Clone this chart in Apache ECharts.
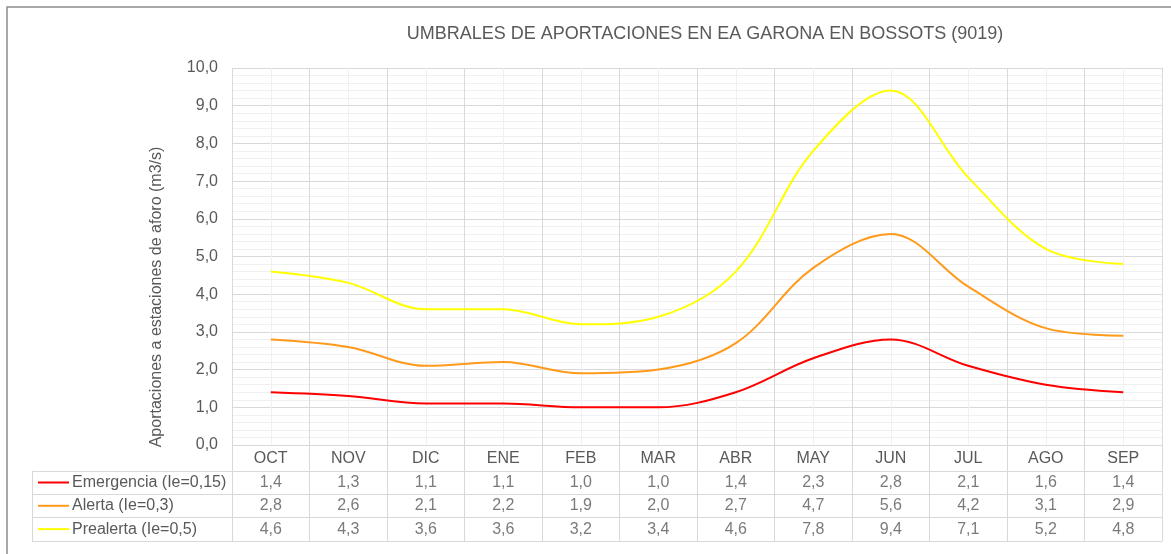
<!DOCTYPE html>
<html>
<head>
<meta charset="utf-8">
<script src="https://cdn.jsdelivr.net/npm/echarts@6/dist/echarts.min.js"></script>
<style>
  html, body { margin: 0; padding: 0; background: #fff; }
  #chart { width: 1171px; height: 554px; }
</style>
</head>
<body>
<div id="chart"></div>
<script>
// datos de los umbrales (m3/s)
const months = ['OCT', 'NOV', 'DIC', 'ENE', 'FEB', 'MAR', 'ABR', 'MAY', 'JUN', 'JUL', 'AGO', 'SEP'];
const seriesNames = ['Emergencia (Ie=0,15)', 'Alerta (Ie=0,3)', 'Prealerta (Ie=0,5)'];
const emergencia = [1.4, 1.3, 1.1, 1.1, 1.0, 1.0, 1.4, 2.3, 2.8, 2.1, 1.6, 1.4];
const alerta = [2.8, 2.6, 2.1, 2.2, 1.9, 2.0, 2.7, 4.7, 5.6, 4.2, 3.1, 2.9];
const prealerta = [4.6, 4.3, 3.6, 3.6, 3.2, 3.4, 4.6, 7.8, 9.4, 7.1, 5.2, 4.8];
const colors = ['#FF0000', '#FF9A1A', '#FFFF00'];

const TXT = '#595959';
const FONT = '"Liberation Sans", Arial, sans-serif';
const allValues = [emergencia, alerta, prealerta];

const fmt = v => v.toFixed(1).replace('.', ',');

// celdas de la tabla de datos
const tableData = [];
allValues.forEach((vals, r) => {
    vals.forEach((v, i) => tableData.push([i, r, v]));
});

const chart = echarts.init(document.getElementById('chart'));

chart.setOption({
    animation: false,
    backgroundColor: '#fff',
    textStyle: { fontFamily: FONT },
    title: {
        text: 'UMBRALES DE APORTACIONES EN EA GARONA EN BOSSOTS (9019)',
        left: 700, top: 20, textAlign: 'center',
        textStyle: { fontSize: 18, fontWeight: 'normal', color: TXT, fontFamily: FONT }
    },
    legend: {
        data: seriesNames,
        orient: 'vertical',
        left: 38, top: 473.5, padding: 0,
        icon: 'rect', itemWidth: 31, itemHeight: 2, itemGap: 5.3,
        textStyle: { fontSize: 16, color: TXT, lineHeight: 18, padding: [0, 0, 0, -2], fontFamily: FONT },
        selectedMode: false
    },
    graphic: [{
        type: 'rect',
        shape: { x: 7, y: 7, width: 1190, height: 560 },
        style: { fill: 'none', stroke: '#8c8c8c', lineWidth: 1.5 },
        silent: true
    }, {
        // titulo del eje vertical
        type: 'text', x: 157, y: 297, rotation: Math.PI / 2,
        style: {
            text: 'Aportaciones a estaciones de aforo (m3/s)',
            fill: TXT, font: '16px ' + FONT,
            textAlign: 'center', textVerticalAlign: 'middle'
        },
        silent: true
    }],
    grid: [
        { left: 232, right: 9, top: 68, bottom: 109 },
        { left: 232, right: 9, top: 471, bottom: 13 }
    ],
    xAxis: [{
        type: 'category', gridIndex: 0, data: months, boundaryGap: true,
        axisLine: { lineStyle: { color: '#D9D9D9' } },
        axisTick: { show: true, length: 26, lineStyle: { color: '#D9D9D9' } },
        axisLabel: { color: TXT, fontSize: 16, margin: 6, fontFamily: FONT },
        splitLine: { show: true, lineStyle: { color: '#D9D9D9' } }
    }, {
        // lineas verticales menores en el centro de cada mes
        type: 'value', gridIndex: 0, min: 0, max: 12, interval: 1,
        position: 'top',
        axisLine: { show: false }, axisTick: { show: false }, axisLabel: { show: false },
        splitLine: { show: false },
        minorTick: { show: false, splitNumber: 2 },
        minorSplitLine: { show: true, lineStyle: { color: '#F0F0F0' } }
    }, {
        type: 'category', gridIndex: 1, data: months, boundaryGap: true,
        axisLine: { show: false }, axisTick: { show: false }, axisLabel: { show: false },
        splitLine: { show: true, lineStyle: { color: '#D9D9D9' } }
    }],
    yAxis: [{
        type: 'value', gridIndex: 0, min: 0, max: 10, interval: 1,
        axisLine: { show: false }, axisTick: { show: false },
        axisLabel: { color: TXT, fontSize: 16, margin: 14, formatter: v => fmt(v), fontFamily: FONT },
        splitLine: { show: true, lineStyle: { color: '#D9D9D9' } },
        minorTick: { show: false, splitNumber: 5 },
        minorSplitLine: { show: true, lineStyle: { color: '#F0F0F0' } }
    }, {
        type: 'category', gridIndex: 1, data: seriesNames, inverse: true, boundaryGap: true,
        axisLine: { show: true, lineStyle: { color: '#D9D9D9' } },
        axisTick: { show: true, length: 200, lineStyle: { color: '#D9D9D9' } },
        axisLabel: { show: false },
        splitLine: { show: true, lineStyle: { color: '#D9D9D9' } }
    }, {
        // borde izquierdo de la tabla
        type: 'category', gridIndex: 1, data: seriesNames, inverse: true,
        position: 'left', offset: 200,
        axisLine: { show: true, lineStyle: { color: '#D9D9D9' } },
        axisTick: { show: false }, axisLabel: { show: false }, splitLine: { show: false }
    }, {
        // borde derecho de la tabla
        type: 'category', gridIndex: 1, data: seriesNames, inverse: true,
        position: 'right',
        axisLine: { show: true, lineStyle: { color: '#D9D9D9' } },
        axisTick: { show: false }, axisLabel: { show: false }, splitLine: { show: false }
    }],
    series: [
        ...allValues.map((vals, k) => ({
            name: seriesNames[k], type: 'line', xAxisIndex: 0, yAxisIndex: 0,
            data: vals, smooth: 0.35, showSymbol: false,
            lineStyle: { color: colors[k], width: 2 },
            itemStyle: { color: colors[k] },
            z: 3 + k
        })),
        {
            name: 'tabla', type: 'scatter', xAxisIndex: 2, yAxisIndex: 1,
            data: tableData, symbolSize: 0,
            encode: { x: 0, y: 1 },
            label: {
                show: true, position: 'inside', color: TXT, fontSize: 16, fontFamily: FONT,
                formatter: p => fmt(p.value[2])
            },
            silent: true
        }
    ]
});
</script>
</body>
</html>
